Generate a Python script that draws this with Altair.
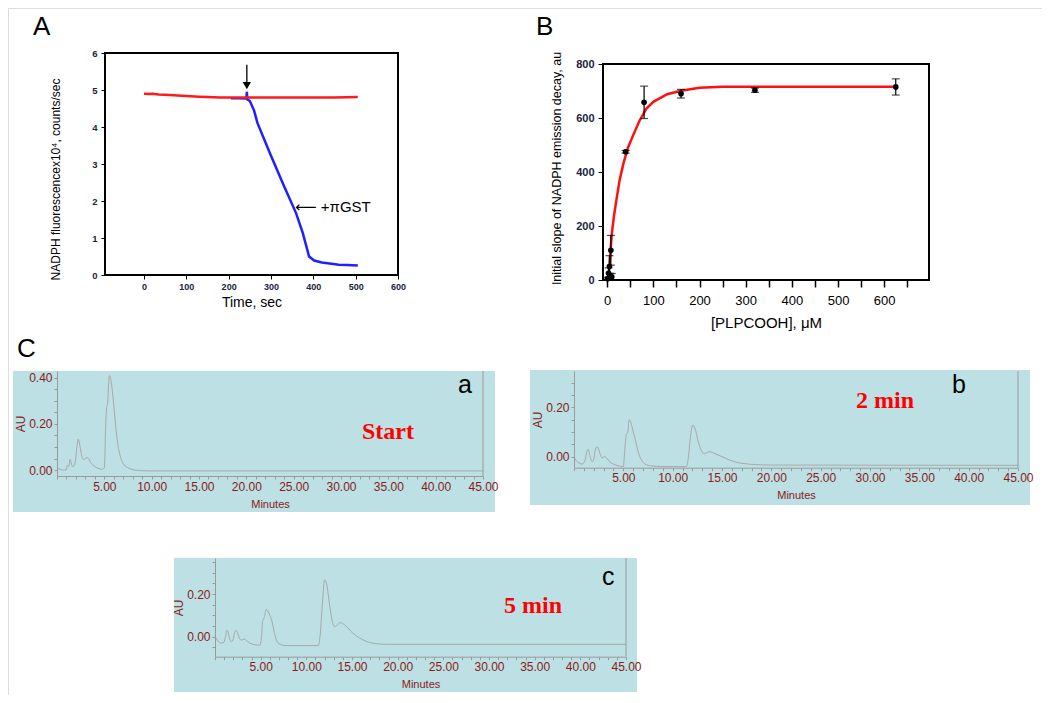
import altair as alt
import pandas as pd

SANS = "Liberation Sans"
SERIF = "Liberation Serif"
W, H = 1034, 687
NAVY = "#1c2340"
DRED = "#8b1a1a"
BG = "#bce0e3"
GRAYLINE = "#a8a8a8"

# ---------------- Panel A data ----------------
a_red_t = [0, 10, 20, 35, 50, 80, 100, 130, 150, 180, 200, 250, 300, 350, 400, 450, 505]
a_red_y = [4.90, 4.89, 4.90, 4.88, 4.87, 4.85, 4.84, 4.82, 4.81, 4.80, 4.80, 4.80, 4.80, 4.80, 4.80, 4.80, 4.81]
a_blue_t = [205, 225, 240, 242, 243, 244, 250, 260, 268, 299, 331, 359, 375, 390, 402, 420, 434, 460, 480, 505]
a_blue_y = [4.78, 4.78, 4.77, 4.80, 4.95, 4.75, 4.70, 4.45, 4.11, 3.25, 2.40, 1.68, 1.14, 0.50, 0.39, 0.34, 0.32, 0.28, 0.27, 0.26]
a_arrow_t = [243]
a_arrow_top = [5.68]
a_arrow_tip = [5.12]
a_note_t = [357]
a_note_y = [1.84]
a_note_text = ["\u27f5 +\u03c0GST"]

# ---------------- Panel B data ----------------
b_conc = [1, 3, 5, 6, 8, 10, 40, 80, 160, 320, 625]
b_slope = [5, 25, 50, 15, 110, 12, 475, 658, 690, 703, 715]
b_err = [5, 20, 40, 10, 55, 12, 5, 60, 16, 8, 30]
b_fit_x = [0, 3, 6, 10, 15, 20, 27, 35, 45, 55, 70, 85, 100, 130, 160, 200, 250, 400, 625]
b_fit_y = [0, 10, 80, 170, 240, 296, 370, 430, 490, 531, 590, 635, 660, 688, 701, 712, 716, 716, 716]

# ---------------- Panel C data (chromatograms) ----------------
ca_t = [0.0, 0.3, 0.6, 0.95, 1.1, 1.25, 1.37, 1.5, 1.65, 1.8, 1.95, 2.1, 2.25, 2.4, 2.55, 2.7, 2.85,
        3.05, 3.2, 3.4, 3.6, 3.9, 4.3, 4.8, 5.0, 5.15, 5.25, 5.35, 5.45, 5.55, 5.65, 5.8, 6.0, 6.2,
        6.4, 6.6, 6.85, 7.1, 7.6, 8.2, 9.0, 10.0, 45.0]
ca_au = [0.007, 0.003, 0.0, 0.0, 0.02, 0.015, 0.047, 0.03, 0.015, 0.018, 0.04, 0.10, 0.134, 0.11,
         0.075, 0.05, 0.045, 0.053, 0.054, 0.045, 0.03, 0.018, 0.008, 0.003, 0.01, 0.2, 0.276, 0.29,
         0.37, 0.41, 0.40, 0.36, 0.28, 0.19, 0.12, 0.073, 0.04, 0.022, 0.008, 0.0, -0.003, -0.004, -0.004]

cb_t = [0.0, 0.2, 0.5, 0.8, 1.0, 1.15, 1.3, 1.45, 1.6, 1.85, 2.0, 2.15, 2.3, 2.45, 2.65, 2.85, 3.1,
        3.3, 3.6, 4.0, 4.5, 5.0, 5.15, 5.3, 5.45, 5.6, 5.75, 5.95, 6.2, 6.5, 6.8, 7.2, 7.8, 9.0,
        11.4, 11.6, 11.8, 12.05, 12.3, 12.6, 12.9, 13.2, 13.5, 13.8, 14.3, 15.0, 16.0, 17.0, 18.5,
        20.0, 45.0]
cb_au = [0.0, -0.015, -0.025, -0.03, -0.025, -0.01, 0.02, 0.03, 0.005, -0.02, -0.01, 0.025, 0.04,
         0.035, 0.01, -0.005, 0.0, -0.005, -0.02, -0.03, -0.037, -0.04, 0.03, 0.09, 0.10, 0.15, 0.14,
         0.11, 0.07, 0.02, -0.01, -0.03, -0.037, -0.04, -0.04, 0.0, 0.08, 0.128, 0.11, 0.06, 0.025,
         0.012, 0.017, 0.02, 0.012, 0.0, -0.017, -0.027, -0.032, -0.034, -0.035]

cc_t = [0.0, 0.3, 0.7, 1.0, 1.15, 1.3, 1.45, 1.6, 1.8, 2.0, 2.15, 2.3, 2.5, 2.7, 2.9, 3.2, 3.5,
        3.8, 4.3, 4.9, 5.1, 5.2, 5.4, 5.6, 5.8, 6.0, 6.2, 6.5, 6.8, 7.2, 7.8, 11.3, 11.5, 11.75,
        12.0, 12.2, 12.6, 12.85, 13.1, 13.4, 13.7, 14.2, 15.1, 15.8, 16.6, 17.5, 18.8, 45.0]
cc_au = [0.005, -0.02, -0.03, -0.025, 0.0, 0.03, 0.02, -0.01, -0.023, -0.01, 0.02, 0.03, 0.015,
         -0.01, -0.016, -0.011, -0.02, -0.03, -0.037, -0.04, 0.0, 0.07, 0.09, 0.128, 0.12, 0.10,
         0.078, 0.02, -0.023, -0.037, -0.042, -0.042, 0.0, 0.15, 0.266, 0.25, 0.133, 0.07, 0.047,
         0.055, 0.066, 0.055, 0.016, -0.005, -0.023, -0.032, -0.036, -0.036]

# ---------------- panel geometry (scale domains and pixel ranges) ----------------
PANELS = {
    "A": dict(x=([-92, 600], [97, 390]), y=([0, 6], [267, 45])),
    "B": dict(x=([-9, 697], [595, 921]), y=([0, 800], [272, 56])),
    "a": dict(x=([0, 45], [49, 475]), y=([-0.026, 0.43], [468, 363])),
    "b": dict(x=([0, 45], [566, 1010]), y=([-0.0446, 0.347], [459.7, 363])),
    "c": dict(x=([0, 45], [207, 618]), y=([-0.094, 0.369], [648.7, 550])),
}


def scale(p, ch):
    d, r = PANELS[p][ch]
    return alt.Scale(domain=d, range=r, nice=False, zero=False)


def X(field, p, axis=None):
    return alt.X(field, type="quantitative", scale=scale(p, "x"), axis=axis)


def Y(field, p, axis=None):
    return alt.Y(field, type="quantitative", scale=scale(p, "y"), axis=axis)


one = pd.DataFrame({"k": [0]})
layers = []

# ---------------- Panel C backgrounds ----------------
for (x0, x1, y0, y1) in [(5, 487, 363, 504), (522, 1022, 362, 497), (166, 629, 550, 684)]:
    layers.append(
        alt.Chart(one).mark_rect(color=BG).encode(
            x=alt.value(x0), x2=alt.value(x1), y=alt.value(y0), y2=alt.value(y1)
        )
    )

# ---------------- Panel A ----------------
dA, _ = PANELS["A"]["x"]
dAy, _ = PANELS["A"]["y"]
frameA = pd.DataFrame({"x0": [dA[0]], "x1": [dA[1]], "y0": [dAy[0]], "y1": [dAy[1]]})
axA_x = alt.Axis(orient="bottom", offset=PANELS["A"]["y"][1][0] - H, values=list(range(0, 601, 100)),
                 grid=False, domain=False, tickSize=4, tickColor="black", labelFont=SANS, labelFontSize=9,
                 labelFontWeight="bold", labelColor=NAVY, labelPadding=3, labelFlush=False,
                 labelOverlap=False, title="Time, sec", titleFont=SANS, titleFontSize=14,
                 titleFontWeight="normal", titleColor="black", titlePadding=4, zindex=2)
axA_y = alt.Axis(orient="left", offset=-PANELS["A"]["x"][1][0], values=list(range(0, 7)), grid=False,
                 domain=False, tickSize=4, tickColor="black", labelFont=SANS, labelFontSize=9.5,
                 labelFontWeight="bold", labelColor=NAVY, labelPadding=4, labelFlush=False,
                 labelOverlap=False, title="NADPH fluorescencex10\u2074, counts/sec", titleFont=SANS,
                 titleFontSize=12, titleFontWeight="normal", titleColor="black", titlePadding=29,
                 titleY=171, zindex=2)
layers.append(
    alt.Chart(frameA).mark_rect(fillOpacity=0, stroke="black", strokeWidth=2).encode(
        x=X("x0", "A", axA_x), x2="x1", y=Y("y0", "A", axA_y), y2="y1"
    )
)
blue = pd.DataFrame({"t": a_blue_t, "v": a_blue_y})
red = pd.DataFrame({"t": a_red_t, "v": a_red_y})
layers.append(alt.Chart(blue).mark_line(color="#1f1fff", strokeWidth=2.5).encode(x=X("t", "A"), y=Y("v", "A")))
layers.append(alt.Chart(red).mark_line(color="#ff1a1a", strokeWidth=2.5).encode(x=X("t", "A"), y=Y("v", "A")))
arrow = pd.DataFrame({"t": a_arrow_t, "top": a_arrow_top, "tip": a_arrow_tip})
layers.append(alt.Chart(arrow).mark_rule(color="black", strokeWidth=1.3).encode(
    x=X("t", "A"), y=Y("top", "A"), y2="tip"))
layers.append(alt.Chart(arrow).mark_point(shape="triangle-down", filled=True, color="black", size=70,
                                          opacity=1).encode(x=X("t", "A"), y=Y("tip", "A")))
note = pd.DataFrame({"t": a_note_t, "v": a_note_y, "s": a_note_text})
layers.append(alt.Chart(note).mark_text(align="left", baseline="middle", font="Liberation Sans, DejaVu Sans",
                                        fontSize=15, color="black").encode(x=X("t", "A"), y=Y("v", "A"), text="s"))

# ---------------- Panel B ----------------
dB, _ = PANELS["B"]["x"]
dBy, _ = PANELS["B"]["y"]
frameB = pd.DataFrame({"x0": [dB[0]], "x1": [dB[1]], "y0": [dBy[0]], "y1": [dBy[1]]})
axB_x = alt.Axis(orient="bottom", offset=PANELS["B"]["y"][1][0] - H, values=list(range(0, 651, 50)),
                 labelExpr="datum.value % 100 == 0 ? datum.label : ''",
                 grid=False, domain=False, tickSize=7, tickWidth=1.5, tickColor="black", labelFont=SANS,
                 labelFontSize=13, labelColor="black", labelPadding=7, labelFlush=False,
                 labelOverlap=False, title="[PLPCOOH], \u03bcM", titleFont=SANS, titleFontSize=15,
                 titleFontWeight="normal", titleColor="black", titlePadding=8, zindex=2)
axB_y = alt.Axis(orient="left", offset=-PANELS["B"]["x"][1][0], values=list(range(0, 801, 200)), grid=False,
                 domain=False, tickSize=5, tickColor="black", labelFont=SANS, labelFontSize=11,
                 labelFontWeight="bold", labelColor=NAVY, labelPadding=4, labelFlush=False,
                 labelOverlap=False, title="Initial slope of NADPH emission decay, au", titleFont=SANS,
                 titleFontSize=12.5, titleFontWeight="normal", titleColor="black", titlePadding=12,
                 titleY=160, zindex=2)
layers.append(
    alt.Chart(frameB).mark_rect(fillOpacity=0, stroke="black", strokeWidth=2).encode(
        x=X("x0", "B", axB_x), x2="x1", y=Y("y0", "B", axB_y), y2="y1"
    )
)
fit = pd.DataFrame({"c": b_fit_x, "v": b_fit_y})
layers.append(alt.Chart(fit).mark_line(color="#ff1010", strokeWidth=2.5).encode(x=X("c", "B"), y=Y("v", "B")))
pts = pd.DataFrame({"c": b_conc, "v": b_slope, "e": b_err})
pts["lo"] = pts["v"] - pts["e"]
pts["hi"] = pts["v"] + pts["e"]
layers.append(alt.Chart(pts).mark_rule(color="black", strokeWidth=1.2).encode(
    x=X("c", "B"), y=Y("lo", "B"), y2="hi"))
layers.append(alt.Chart(pts).mark_tick(color="black", orient="horizontal", size=8, thickness=1.2).encode(
    x=X("c", "B"), y=Y("lo", "B")))
layers.append(alt.Chart(pts).mark_tick(color="black", orient="horizontal", size=8, thickness=1.2).encode(
    x=X("c", "B"), y=Y("hi", "B")))
layers.append(alt.Chart(pts).mark_circle(color="black", size=32, opacity=1).encode(
    x=X("c", "B"), y=Y("v", "B")))

# ---------------- Panel C chromatograms ----------------
chroms = [("a", ca_t, ca_au, "a", "Start"), ("b", cb_t, cb_au, "b", "2 min"), ("c", cc_t, cc_au, "c", "5 min")]
letter_pos = {"a": (450, 377), "b": (944, 377), "c": (594, 569)}
label_pos = {"a": (380, 424), "b": (877, 393), "c": (525, 598)}
for p, t, au, letter, lab in chroms:
    (xd, xr), (yd, yr) = PANELS[p]["x"], PANELS[p]["y"]
    lo = -0.05 if yd[0] < -0.05 else 0.0
    yvals = []
    v = lo
    while v <= yd[1] + 1e-9:
        yvals.append(round(v, 2))
        v += 0.05
    ax_x = alt.Axis(orient="bottom", offset=yr[0] - H, values=list(range(0, 46)),
                    labelExpr="datum.value % 5 == 0 && datum.value > 0 ? format(datum.value, '.2f') : ''",
                    grid=False, domain=True, domainColor="#9a9a9a", domainWidth=1, tickSize=3,
                    tickColor="#9a9a9a", labelFont=SANS, labelFontSize=12, labelColor=DRED, labelPadding=2,
                    labelFlush=False, labelOverlap=False, title="Minutes", titleFont=SANS, titleFontSize=11,
                    titleFontWeight="normal", titleColor=DRED, titlePadding=6, zindex=2)
    ax_y = alt.Axis(orient="left", offset=-xr[0], values=yvals,
                    labelExpr="abs(round(datum.value * 100)) % 20 == 0 ? format(datum.value, '.2f') : ''",
                    grid=False, domain=True, domainColor="#9a9a9a", domainWidth=1, tickSize=3,
                    tickColor="#9a9a9a", labelFont=SANS, labelFontSize=12, labelColor=DRED, labelPadding=2,
                    labelFlush=False, labelOverlap=False, title="AU", titleFont=SANS, titleFontSize=12,
                    titleFontWeight="normal", titleColor=DRED, titlePadding=1, zindex=2)
    df = pd.DataFrame({"t": t, "au": au})
    layers.append(alt.Chart(df).mark_line(color=GRAYLINE, strokeWidth=1, interpolate="monotone").encode(
        x=X("t", p, ax_x), y=Y("au", p, ax_y)))
    edge = pd.DataFrame({"t": [xd[1]], "lo": [yd[0]], "hi": [yd[1]]})
    layers.append(alt.Chart(edge).mark_rule(color="#9a9a9a", strokeWidth=1).encode(
        x=X("t", p), y=Y("lo", p), y2="hi"))
    lx, ly = letter_pos[p]
    layers.append(alt.Chart(one).mark_text(text=letter, font=SANS, fontSize=25, color="black",
                                           align="left", baseline="middle").encode(
        x=alt.value(lx), y=alt.value(ly)))
    tx, ty = label_pos[p]
    layers.append(alt.Chart(one).mark_text(text=lab, font=SERIF, fontSize=24, fontWeight="bold",
                                           color="#ff0000", align="center", baseline="middle").encode(
        x=alt.value(tx), y=alt.value(ty)))

# ---------------- panel letters ----------------
for txt, (px, py) in [("A", (25, 19)), ("B", (528, 19)), ("C", (9, 341))]:
    layers.append(alt.Chart(one).mark_text(text=txt, font=SANS, fontSize=26, color="black",
                                           align="left", baseline="middle").encode(
        x=alt.value(px), y=alt.value(py)))

chart = alt.layer(*layers).resolve_scale(x="independent", y="independent").properties(
    width=W, height=H, padding=0, autosize=alt.AutoSizeParams(type="none")
).configure_view(stroke="transparent", strokeWidth=0).configure(background="white")

chart.save("out.html", embed_options={"renderer": "svg", "actions": False})
